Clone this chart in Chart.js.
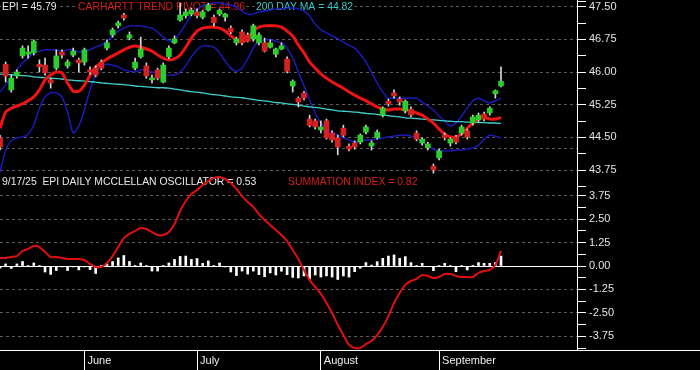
<!DOCTYPE html>
<html>
<head>
<meta charset="utf-8">
<script src="https://cdn.jsdelivr.net/npm/chart.js@4.4.1/dist/chart.umd.min.js"></script>
<style>
  body { margin: 0; background: #000; }
  #chart { display: block; }
</style>
</head>
<body>
<canvas id="chart" width="700" height="370"></canvas>
<script>
// ---------------- Datos ----------------
const monthLabels = ['June', 'July', 'August', 'September'];
const monthStart = [15, 35, 57, 78];

const open = [44.49,46.18,45.59,45.91,46.37,46.41,46.44,46.18,46.16,45.82,46.09,46.46,46.14,46.39,46.28,46.23,46.05,46.09,46.23,46.55,
  46.85,47.06,47.31,46.78,46.09,46.35,46.14,45.82,46.05,45.77,46.35,46.67,47.19,47.29,47.33,47.38,47.26,47.42,47.26,47.33,
  47.26,47.01,46.67,46.92,46.85,46.76,46.67,46.67,46.57,46.41,46.53,46.30,45.68,45.40,45.52,44.92,44.88,44.67,44.88,44.60,
  44.49,44.71,44.30,44.37,44.39,44.62,44.30,44.49,45.01,45.33,45.52,45.38,45.11,45.15,44.60,44.37,44.26,43.84,44.03,44.55,
  44.37,44.51,44.60,44.65,44.83,44.90,45.04,45.06,45.50,45.68];
const high = [44.55,46.23,45.93,46.05,46.60,46.60,46.74,46.28,46.32,45.86,46.51,46.51,46.28,46.55,46.32,46.55,46.12,46.14,46.28,46.74,
  47.01,47.17,47.35,46.92,46.32,46.80,46.21,45.93,46.09,46.21,46.60,46.83,47.58,47.45,47.47,47.45,47.42,47.58,47.31,47.45,
  47.35,47.06,46.80,46.97,46.90,47.10,46.90,46.78,46.74,46.55,46.67,46.35,45.82,45.43,45.56,45.01,44.92,44.88,44.92,44.65,
  44.55,44.78,44.35,44.42,44.58,44.78,44.42,44.67,45.20,45.38,45.59,45.43,45.36,45.20,44.65,44.49,44.39,43.89,44.23,44.60,
  44.49,44.55,44.78,44.69,45.01,45.06,45.08,45.20,45.59,46.12];
const low = [44.21,45.77,45.54,45.86,46.32,46.32,46.39,46.00,45.93,45.63,46.05,46.32,46.09,46.35,46.00,46.16,45.95,45.89,46.05,46.51,
  46.80,47.01,47.19,46.74,46.05,46.32,45.86,45.75,45.82,45.75,46.30,46.65,47.17,47.24,47.29,47.24,47.22,47.40,47.06,47.29,
  47.17,46.88,46.62,46.62,46.69,46.71,46.62,46.46,46.55,46.35,46.51,45.98,45.54,45.20,45.36,44.74,44.69,44.60,44.46,44.39,
  44.10,44.51,44.19,44.23,44.35,44.58,44.21,44.46,44.97,45.22,45.40,45.24,45.06,44.97,44.42,44.32,44.21,43.68,43.98,44.44,
  44.30,44.35,44.55,44.46,44.78,44.85,44.88,45.01,45.40,45.66];
const close = [44.28,45.91,45.86,46.00,46.55,46.46,46.71,46.12,45.98,45.75,46.37,46.39,46.23,46.48,46.21,46.51,46.00,45.93,46.09,46.67,
  46.97,47.13,47.24,46.85,46.23,46.53,45.91,45.86,45.86,46.16,46.55,46.76,47.31,47.38,47.42,47.29,47.38,47.54,47.13,47.42,
  47.33,46.92,46.76,46.67,46.71,47.06,46.85,46.48,46.67,46.53,46.60,46.02,45.79,45.31,45.40,44.78,44.74,44.74,44.49,44.44,
  44.28,44.55,44.23,44.28,44.55,44.74,44.37,44.62,45.17,45.27,45.45,45.31,45.33,45.01,44.46,44.46,44.35,43.75,44.19,44.49,
  44.46,44.39,44.74,44.51,44.97,45.01,44.92,45.17,45.57,45.79];

const trendPivot = [44.71,45.08,45.17,45.22,45.27,45.34,45.43,45.59,45.82,45.93,46.00,45.98,45.75,45.56,45.56,45.70,45.93,46.12,46.21,46.30,
  46.37,46.44,46.51,46.57,46.60,46.57,46.53,46.48,46.39,46.32,46.28,46.30,46.39,46.57,46.78,46.94,47.01,47.03,47.03,47.01,
  46.94,46.83,46.74,46.69,46.78,46.94,47.03,47.06,47.06,47.06,47.03,46.94,46.83,46.62,46.44,46.23,46.09,45.96,45.86,45.77,
  45.70,45.63,45.54,45.47,45.40,45.34,45.27,45.20,45.15,45.13,45.15,45.15,45.13,45.11,45.06,45.01,44.92,44.83,44.69,44.58,
  44.51,44.51,44.58,44.71,44.83,44.92,44.97,44.92,44.92,44.96];
const upperBand = [45.54,45.70,45.89,46.05,46.21,46.32,46.44,46.48,46.51,46.51,46.51,46.48,46.51,46.51,46.46,46.48,46.51,46.57,46.62,46.71,
  46.83,46.94,47.01,47.06,47.06,47.06,47.03,47.01,46.92,46.80,46.71,46.74,46.90,47.10,47.31,47.45,47.52,47.56,47.59,47.59,
  47.56,47.54,47.49,47.40,47.33,47.33,47.38,47.40,47.42,47.45,47.45,47.47,47.47,47.45,47.40,47.29,47.10,46.97,46.90,46.83,
  46.76,46.69,46.62,46.55,46.41,46.23,46.00,45.75,45.54,45.40,45.40,45.40,45.40,45.40,45.40,45.31,45.22,45.13,44.99,44.88,
  44.76,44.83,44.99,45.17,45.34,45.40,45.34,45.29,45.34,45.40];
const lowerBand = [43.70,44.21,44.42,44.49,44.51,44.58,44.78,45.17,45.43,45.52,45.52,45.43,45.08,44.60,44.76,45.13,45.59,45.96,46.16,46.18,
  46.16,46.12,46.05,46.02,46.00,46.05,46.05,46.00,45.98,45.93,45.93,45.93,46.00,46.14,46.35,46.51,46.60,46.60,46.57,46.44,
  46.25,46.09,46.02,46.09,46.30,46.55,46.71,46.74,46.74,46.71,46.67,46.55,46.32,46.00,45.68,45.36,45.06,44.83,44.71,44.62,
  44.55,44.49,44.44,44.39,44.42,44.44,44.44,44.46,44.49,44.51,44.53,44.55,44.55,44.53,44.49,44.39,44.30,44.23,44.19,44.19,
  44.19,44.21,44.21,44.23,44.26,44.32,44.46,44.55,44.53,44.49];
const ma200 = [45.95,45.95,45.94,45.93,45.92,45.91,45.89,45.88,45.87,45.86,45.85,45.84,45.82,45.81,45.80,45.79,45.78,45.77,45.75,45.74,
  45.73,45.72,45.71,45.70,45.68,45.67,45.66,45.65,45.64,45.64,45.63,45.61,45.59,45.57,45.55,45.54,45.52,45.50,45.48,45.47,
  45.45,45.43,45.42,45.41,45.39,45.37,45.35,45.34,45.32,45.30,45.29,45.27,45.26,45.24,45.22,45.20,45.19,45.17,45.15,45.13,
  45.11,45.10,45.09,45.08,45.07,45.05,45.04,45.03,45.01,45.00,44.98,44.97,44.95,44.94,44.93,44.92,44.91,44.90,44.89,44.88,
  44.87,44.86,44.86,44.85,44.85,44.84,44.84,44.83,44.83,44.82];

const summation = [0.43,0.43,0.48,0.53,0.80,0.91,1.07,1.01,0.75,0.48,0.48,0.43,0.37,0.37,0.37,0.32,0.11,-0.05,-0.05,0.16,
  0.53,1.01,1.49,1.71,1.87,2.03,1.97,1.81,1.65,1.65,1.81,2.24,2.93,3.47,3.84,4.05,4.32,4.53,4.69,4.75,
  4.64,4.43,4.11,3.73,3.41,3.15,2.77,2.45,2.19,1.92,1.65,1.33,0.85,0.37,-0.21,-0.75,-1.12,-1.49,-1.97,-2.51,
  -3.15,-3.68,-4.21,-4.37,-4.37,-4.16,-4.00,-3.68,-3.25,-2.67,-1.97,-1.44,-1.01,-0.80,-0.69,-0.48,-0.53,-0.64,-0.59,-0.43,
  -0.43,-0.53,-0.59,-0.59,-0.59,-0.37,-0.27,-0.21,0.05,0.82];
const oscillator = [-0.11,0.11,-0.13,0.11,0.24,0.03,0.16,0.03,-0.32,-0.45,-0.24,-0.05,-0.24,-0.05,-0.21,-0.05,-0.19,-0.40,0.03,0.11,
  0.24,0.43,0.56,0.24,0.03,0.16,0.03,-0.27,-0.27,0.03,0.16,0.35,0.51,0.53,0.35,0.40,0.14,0.27,0.03,0.16,
  -0.05,-0.32,-0.51,-0.27,-0.43,-0.27,-0.46,-0.57,-0.37,-0.48,-0.28,-0.46,-0.61,-0.64,-0.53,-0.69,-0.48,-0.59,-0.53,-0.59,
  -0.72,-0.53,-0.59,-0.30,-0.12,0.18,0.05,0.23,0.41,0.53,0.59,0.41,0.50,0.18,0.03,0.14,-0.03,-0.25,0.03,0.14,
  0.03,-0.30,0.03,-0.21,0.02,0.18,0.14,0.14,0.18,0.53];

const priceTicks = [43.375,43.75,44.125,44.25,44.5,44.875,45.25,45.625,46,46.375,46.75,47.125,47.5,47.625];
const priceLabelled = [43.75,44.5,45.25,46,46.75,47.5];
const priceRefLine = [44.25];
const oscTicks = [-4.375,-3.75,-3.125,-2.5,-1.875,-1.25,-0.625,0,0.625,1.25,1.875,2.5,3.125,3.75];
const oscLabelled = [-3.75,-2.5,-1.25,0,1.25,2.5,3.75];

// ---------------- Grafico ----------------
const FONT = '"Liberation Sans", Arial, sans-serif';
Chart.defaults.font.family = FONT;
Chart.defaults.font.size = 11;

const idx = close.map((_, i) => i);
const pts = arr => idx.map(i => ({ x: i, y: arr[i] }));
const last = arr => arr[arr.length - 1].toFixed(2);

const headers = [
  { text: 'EPI = ' + last(close), x: 2, y: 7, color: '#e8e8e8' },
  { text: 'CARHARTT TREND PIVOT = ' + last(trendPivot), x: 78, y: 7, color: '#d81e1e' },
  { text: '200 DAY MA = ' + last(ma200), x: 256, y: 7, color: '#3cc8c8' },
  { text: '9/17/25  EPI DAILY MCCLELLAN OSCILLATOR = ' + last(oscillator), x: 2, y: 182, color: '#e8e8e8' },
  { text: 'SUMMATION INDEX = ' + last(summation), x: 288, y: 182, color: '#d81e1e' }
];

const fondo = {
  id: 'fondo',
  beforeDraw(chart) {
    const ctx = chart.ctx;
    ctx.save();
    ctx.fillStyle = '#000';
    ctx.fillRect(0, 0, chart.width, chart.height);
    ctx.restore();
  },
  beforeDatasetsDraw(chart) {
    const ctx = chart.ctx;
    ctx.save();
    ctx.font = '10.4px ' + FONT;
    ctx.textBaseline = 'middle';
    headers.forEach(h => {
      const w = ctx.measureText(h.text).width;
      ctx.fillStyle = '#000';
      ctx.fillRect(h.x - 1, h.y - 6, w + 2, 12);
      ctx.fillStyle = h.color;
      ctx.fillText(h.text, h.x, h.y);
    });
    ctx.restore();
  },
  afterDraw(chart) {
    const ctx = chart.ctx, a = chart.chartArea;
    ctx.save();
    ctx.strokeStyle = '#fff';
    ctx.lineWidth = 1;
    ctx.beginPath();
    ctx.moveTo(a.right, Math.round(a.bottom) + 0.5);
    ctx.lineTo(chart.width, Math.round(a.bottom) + 0.5);
    ctx.stroke();
    ctx.restore();
  }
};

const lineDs = (label, arr, color, width, axis, order) => ({
  type: 'line', label, data: pts(arr), yAxisID: axis, borderColor: color, borderWidth: width,
  pointRadius: 0, tension: 0.2, order
});

const yAxisFit = s => { s.width = 123; s.paddingTop = 0; s.paddingBottom = 0; };

const sumDs = lineDs('Summation', summation, '#e01010', 2, 'yO', 0);
sumDs.clip = { left: 0, top: 30, right: 0, bottom: 2 };

new Chart(document.getElementById('chart'), {
  type: 'bar',
  data: {
    datasets: [
      lineDs('Upper', upperBand, '#1c1cc4', 1.4, 'yP', 6),
      lineDs('Lower', lowerBand, '#1c1cc4', 1.4, 'yP', 6),
      lineDs('200 Day MA', ma200, '#40d0d0', 1.3, 'yP', 5),
      lineDs('Trend Pivot', trendPivot, '#ee1414', 3, 'yP', 4),
      { label: 'Wick', data: idx.map(i => ({ x: i, y: [low[i], high[i]] })), yAxisID: 'yP',
        backgroundColor: '#d8d8d8', barThickness: 1, grouped: false, order: 2 },
      { label: 'Body', data: idx.map(i => ({ x: i, y: [open[i], close[i]] })), yAxisID: 'yP',
        backgroundColor: idx.map(i => close[i] >= open[i] ? '#2ccc2c' : '#d42222'),
        barThickness: 5, minBarLength: 2, grouped: false, order: 1 },
      { label: 'Oscillator', data: idx.map(i => ({ x: i, y: [0, oscillator[i]] })), yAxisID: 'yO',
        backgroundColor: '#ffffff', barThickness: 2, grouped: false, order: 3 },
      sumDs
    ]
  },
  options: {
    responsive: false,
    animation: false,
    devicePixelRatio: 1,
    layout: { padding: 0 },
    plugins: { legend: { display: false }, tooltip: { enabled: false } },
    scales: {
      x: {
        type: 'linear', min: 0, max: 102.5, offset: false, position: 'bottom',
        afterBuildTicks: s => { s.ticks = monthStart.map(v => ({ value: v })); },
        afterFit: s => { s.height = 20; s.paddingLeft = 0; s.paddingRight = 0; },
        ticks: { autoSkip: false, maxRotation: 0, align: 'start', labelOffset: 3, padding: -16,
                 color: '#f0f0f0', callback: v => monthLabels[monthStart.indexOf(v)] },
        grid: { drawOnChartArea: false, offset: false, tickLength: 20, tickColor: '#ffffff', color: '#ffffff' },
        border: { color: '#ffffff', width: 1 }
      },
      yP: {
        type: 'linear', position: 'right', stack: 'panes', stackWeight: 188, weight: 1,
        min: 43.338, max: 47.654, offset: false,
        afterBuildTicks: s => { s.ticks = priceTicks.map(v => ({ value: v })); },
        afterFit: yAxisFit,
        ticks: { autoSkip: false, padding: 3, color: '#e4e4e4',
                 callback: v => priceLabelled.includes(v) ? v.toFixed(2) : '' },
        grid: {
          tickLength: 9,
          color: c => (priceLabelled.includes(c.tick.value) || priceRefLine.includes(c.tick.value)) ? '#5c5c5c' : 'rgba(0,0,0,0)',
          tickColor: c => priceRefLine.includes(c.tick.value) ? 'rgba(0,0,0,0)' : '#ffffff'
        },
        border: { color: '#ffffff', dash: [3, 3] }
      },
      yO: {
        type: 'linear', position: 'right', stack: 'panes', stackWeight: 162, weight: 2,
        min: -4.48, max: 4.16, offset: false,
        afterBuildTicks: s => { s.ticks = oscTicks.map(v => ({ value: v })); },
        afterFit: yAxisFit,
        ticks: { autoSkip: false, padding: 3, color: '#e4e4e4',
                 callback: v => oscLabelled.includes(v) ? v.toFixed(2) : '' },
        grid: {
          tickLength: 9,
          color: c => c.tick.value === 0 ? '#ffffff' : (oscLabelled.includes(c.tick.value) ? '#5c5c5c' : 'rgba(0,0,0,0)'),
          tickColor: '#ffffff'
        },
        border: { color: '#ffffff', dash: c => (c.tick && c.tick.value === 0) ? [] : [3, 3] }
      }
    }
  },
  plugins: [fondo]
});
</script>
</body>
</html>
